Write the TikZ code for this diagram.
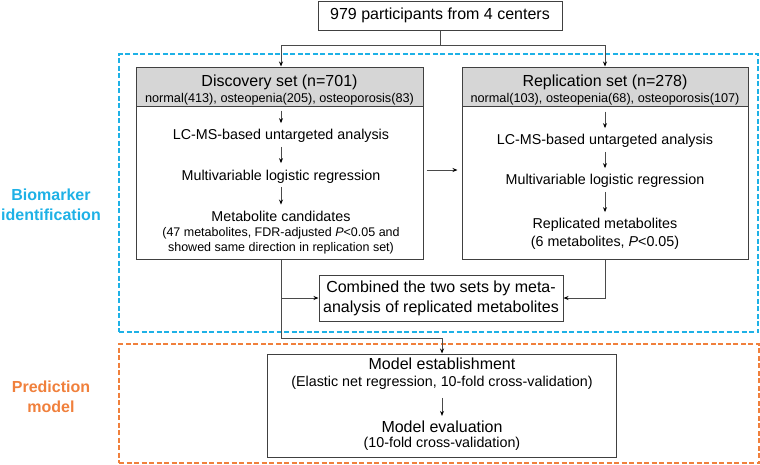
\documentclass[tikz,border=0pt]{standalone}
\usepackage{fontspec}
\setmainfont{Liberation Sans}
\usetikzlibrary{arrows.meta,calc}
\definecolor{bluec}{HTML}{1EB1E6}
\definecolor{orangec}{HTML}{F0803C}
\definecolor{hdrfill}{HTML}{D6D6D6}
\definecolor{edgec}{HTML}{404040}
\definecolor{connc}{HTML}{4A4A4A}
\begin{document}
\begin{tikzpicture}[x=1pt,y=-1pt,
  boxst/.style={draw=edgec,line width=1pt,rectangle,inner sep=0pt},
  hdrst/.style={boxst,fill=hdrfill},
  txt/.style={inner sep=0pt,align=center,font=\fontsize{14.3}{17}\selectfont},
  big/.style={inner sep=0pt,align=center,font=\fontsize{16}{20}\selectfont},
  ttl/.style={inner sep=0pt,align=center,font=\fontsize{16}{19}\selectfont},
  sub/.style={inner sep=0pt,align=center,font=\fontsize{12.7}{15}\selectfont},
  subb/.style={inner sep=0pt,align=center,font=\fontsize{12.5}{15}\selectfont},
  conn/.style={draw=connc,line width=0.9pt},
  arr/.style={conn,-{Stealth[length=5pt,width=4pt,color=black]}},
  dashblue/.style={draw=bluec,line width=1.5pt,dash pattern=on 5pt off 2.5pt},
  dashorange/.style={draw=orangec,line width=1.5pt,dash pattern=on 5pt off 2.5pt},
  lab/.style={inner sep=0pt,align=center,font=\bfseries\fontsize{16}{20}\selectfont}
]
\useasboundingbox (0,0) rectangle (760,464);

% dashed regions
\node[dashblue,rectangle,inner sep=0pt,minimum width=639pt,minimum height=278pt] (bioreg) at (438.5,193) {};
\node[dashorange,rectangle,inner sep=0pt,minimum width=640pt,minimum height=119pt] (predreg) at (439,403.5) {};

% side labels
\node[lab,text=bluec] (biolab) at (51,205) {Biomarker\\identification};
\node[lab,text=orangec] (predlab) at (51,397) {Prediction\\model};

% top box
\node[boxst,minimum width=244pt,minimum height=29pt] (top) at (440,15.5) {};
\node[ttl] (toptxt) at (top) {979 participants from 4 centers};

% discovery set
\node[hdrst,minimum width=287pt,minimum height=39pt] (dh) at (279.5,86.5) {};
\node[boxst,minimum width=287pt,minimum height=153pt] (db) at (279.5,182.5) {};
\node[ttl] (dt) at (279.5,82) {Discovery set (n=701)};
\node[sub] (ds) at (279.5,99) {normal(413), osteopenia(205), osteoporosis(83)};
\node[txt] (d1) at (281,136) {LC-MS-based untargeted analysis};
\node[txt] (d2) at (281,177) {Multivariable logistic regression};
\node[txt] (d3) at (281,216) {Metabolite candidates};
\node[subb] (d3b) at (281,240.5) {(47 metabolites, FDR-adjusted \textit{P}<0.05 and\\showed same direction in replication set)};

% replication set
\node[hdrst,minimum width=286pt,minimum height=39pt] (rh) at (605,86.5) {};
\node[boxst,minimum width=286pt,minimum height=153pt] (rb) at (605,182.5) {};
\node[ttl] (rt) at (605,82) {Replication set (n=278)};
\node[sub] (rs) at (605,99) {normal(103), osteopenia(68), osteoporosis(107)};
\node[txt] (r1) at (605,141) {LC-MS-based untargeted analysis};
\node[txt] (r2) at (605,181) {Multivariable logistic regression};
\node[txt] (r3) at (605,225) {Replicated metabolites};
\node[txt] (r3b) at (605,243) {(6 metabolites, \textit{P}<0.05)};

% combined box
\node[boxst,minimum width=244pt,minimum height=46pt] (comb) at (441,298) {};
\node[big] (combtxt) at (comb) {Combined the two sets by meta-\\analysis of replicated metabolites};

% model box
\node[boxst,minimum width=349pt,minimum height=103pt] (model) at (442,405.5) {};
\node[big] (m1) at (442,364) {Model establishment};
\node[txt] (m1b) at (442,383) {(Elastic net regression, 10-fold cross-validation)};
\node[big] (m2) at (442,427) {Model evaluation};
\node[txt] (m2b) at (442,444) {(10-fold cross-validation)};

% junction coordinates
\coordinate (split) at (440,45);
\coordinate (j1) at (281,338);
\coordinate (j2) at (281,298);

% top split
\draw[conn] (top.south) -- (split);
\draw[arr] (split) -| (d1 |- dh.north);
\draw[arr] (split) -| (r1 |- rh.north);

% inner arrows discovery
\draw[arr,shorten <=4pt] (d1 |- dh.south) -- ($(d1.north)+(0,-6)$);
\draw[arr] ($(d1.south)+(0,4)$) -- ($(d2.north)+(0,-7)$);
\draw[arr] ($(d2.south)+(0,3)$) -- ($(d3.north)+(0,-6)$);

% inner arrows replication
\draw[arr,shorten <=5pt] (r1 |- rh.south) -- ($(r1.north)+(0,-6)$);
\draw[arr] ($(r1.south)+(0,4)$) -- ($(r2.north)+(0,-6)$);
\draw[arr] ($(r2.south)+(0,4)$) -- ($(r3.north)+(0,-6)$);

% discovery -> replication
\draw[arr,shorten <=3pt,shorten >=4pt] (db.east |- 0,170) -- (rb.west |- 0,170);

% to combined and model
\draw[conn] (d1 |- db.south) -- (j2);
\draw[arr] (j2) -- (j1) -| (model.north);
\draw[arr] (j2) -- (comb.west);
\draw[arr] (r1 |- rb.south) |- (comb.east);

% model inner arrow
\draw[arr] ($(m1b.south)+(0,8)$) -- ($(m2.north)+(0,-5)$);
\end{tikzpicture}
\end{document}
